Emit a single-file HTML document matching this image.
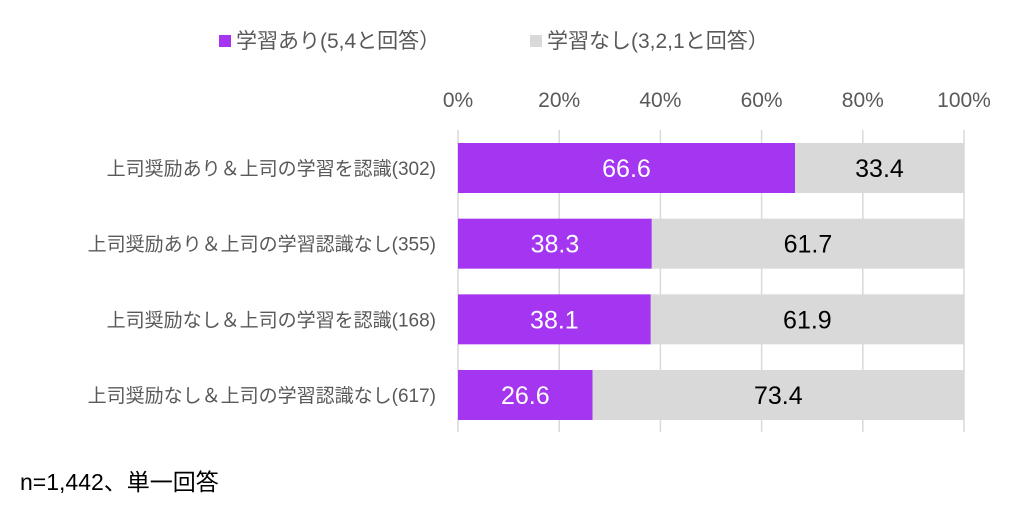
<!DOCTYPE html>
<html><head><meta charset="utf-8"><style>
body{margin:0;background:#fff;}
svg{display:block;font-family:"Liberation Sans","Noto Sans CJK JP",sans-serif;}
</style></head><body>
<svg id="chart" width="1024" height="510" viewBox="0 0 1024 510">
<g>
  <rect x="219" y="35" width="12" height="12" fill="#A435F0"/>
  <text x="236" y="48" font-size="21" fill="#595959">学習あり(5,4と回答）</text>
  <rect x="530" y="35" width="12" height="12" fill="#D9D9D9"/>
  <text x="547" y="48" font-size="21" fill="#595959">学習なし(3,2,1と回答）</text>
</g>
<g id="grid"></g><g id="ticks"></g><g id="cats"></g><g id="bars"></g>
<text x="20" y="490" font-size="23" fill="#000">n=1,442、単一回答</text>
</svg>
<script>
const categories=["上司奨励あり＆上司の学習を認識(302)","上司奨励あり＆上司の学習認識なし(355)","上司奨励なし＆上司の学習を認識(168)","上司奨励なし＆上司の学習認識なし(617)"];
const learnYes=[66.6,38.3,38.1,26.6];
const learnNo=[33.4,61.7,61.9,73.4];
const tickValues=[0,20,40,60,80,100];
const NS="http://www.w3.org/2000/svg";
const x0=458,x1=964;
const xs=v=>x0+(x1-x0)*v/100;
const rowY=i=>143+i*75.67;
const bh=50;
function mk(tag,attrs,parent,txt){const e=document.createElementNS(NS,tag);for(const k in attrs)e.setAttribute(k,attrs[k]);if(txt!==undefined)e.textContent=txt;document.getElementById(parent).appendChild(e);return e;}
tickValues.forEach(t=>{
  const l=mk("line",{x1:xs(t),x2:xs(t),y1:130,y2:432,stroke:"#D9D9D9","stroke-width":1.5},"grid");
  
  
  const tx=mk("text",{x:xs(t),y:107,"font-size":21,fill:"#595959","text-anchor":"middle"},"ticks",t+"%");
  
  
});
categories.forEach((c,i)=>{
  const y=rowY(i);
  const lb=mk("text",{x:436,y:y+bh/2+7,"font-size":19,fill:"#595959","text-anchor":"end"},"cats",c);
  
  
  const a=mk("rect",{x:xs(0),y:y,width:xs(learnYes[i])-xs(0),height:bh,fill:"#A435F0"},"bars");
  
  
  const b=mk("rect",{x:xs(learnYes[i]),y:y,width:xs(learnYes[i]+learnNo[i])-xs(learnYes[i]),height:bh,fill:"#D9D9D9"},"bars");
  
  
  const ta=mk("text",{x:(xs(0)+xs(learnYes[i]))/2,y:y+bh/2+9,"font-size":25,fill:"#fff","text-anchor":"middle"},"bars",learnYes[i].toFixed(1));
  
  
  const tb=mk("text",{x:(xs(learnYes[i])+xs(learnYes[i]+learnNo[i]))/2,y:y+bh/2+9,"font-size":25,fill:"#000","text-anchor":"middle"},"bars",learnNo[i].toFixed(1));
  
  
});
</script>
</body></html>
